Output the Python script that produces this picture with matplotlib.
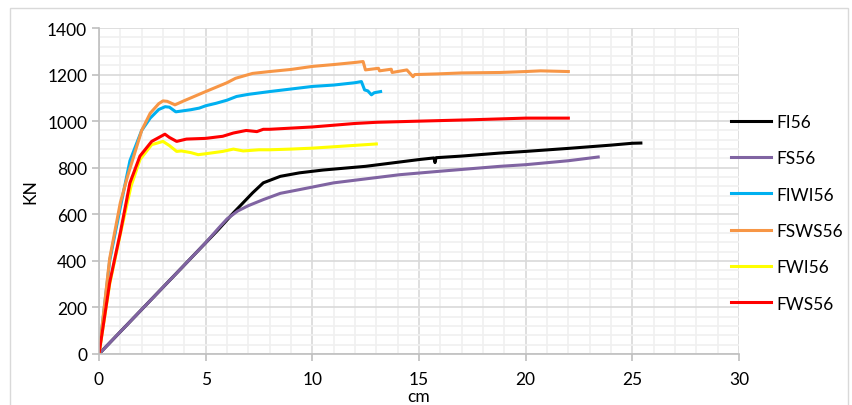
import matplotlib
matplotlib.use("Agg")
import matplotlib.pyplot as plt
from matplotlib.ticker import MultipleLocator
from matplotlib.patches import Rectangle

plt.rcParams['font.family'] = ['Lato', 'DejaVu Sans']

# ---- data (cm, kN) ----
fi56_x = [0, 2, 4, 5.6, 6.3, 7.2, 7.7, 8.5, 9.4, 10.5, 12.5, 15.0, 15.7, 15.75, 15.8, 17.0, 18.8, 20.0, 22.0, 24.0, 25.0, 25.4]
fi56_y = [0, 191, 382, 535, 606, 692, 735, 763, 778, 790, 806, 835, 842, 822, 843, 850, 863, 870, 883, 897, 905, 906]

fs56_x = [0, 2, 4, 5.0, 5.6, 6.0, 6.5, 7.0, 7.7, 8.5, 9.4, 11.0, 12.5, 14.1, 16.0, 18.8, 20.0, 22.0, 23.4]
fs56_y = [0, 191, 382, 478, 540, 580, 614, 637, 663, 690, 706, 735, 752, 770, 785, 806, 813, 830, 846]

fiwi56_x = [0, 0.5, 1.0, 1.45, 2.0, 2.4, 2.8, 3.1, 3.3, 3.6, 4.3, 4.7, 5.0, 5.5, 6.0, 6.45, 7.0, 8.0, 9.0, 10.0, 11.0, 12.0, 12.3, 12.45, 12.6, 12.77, 12.9, 13.2]
fiwi56_y = [0, 400, 630, 830, 960, 1013, 1050, 1062, 1060, 1040, 1049, 1056, 1066, 1077, 1090, 1106, 1115, 1127, 1138, 1149, 1155, 1165, 1170, 1134, 1130, 1113, 1122, 1127]

fsws56_x = [0, 0.5, 1.0, 1.33, 2.0, 2.4, 2.8, 3.0, 3.2, 3.56, 4.0, 5.0, 6.0, 6.4, 7.2, 8.0, 9.0, 10.0, 11.0, 12.0, 12.38, 12.49, 13.1, 13.15, 13.7, 13.74, 14.43, 14.72, 14.8, 15.9, 17.0, 18.8, 20.0, 20.7, 22.0]
fsws56_y = [0, 410, 650, 760, 960, 1034, 1075, 1087, 1085, 1070, 1088, 1127, 1165, 1184, 1205, 1213, 1222, 1235, 1243, 1252, 1256, 1220, 1227, 1216, 1223, 1209, 1220, 1191, 1200, 1203, 1207, 1209, 1213, 1216, 1213]

fwi56_x = [0, 0.5, 1.0, 1.5, 1.92, 2.47, 3.0, 3.3, 3.64, 3.86, 4.3, 4.65, 5.0, 5.8, 6.3, 6.76, 7.5, 8.0, 9.0, 10.0, 11.0, 12.0, 13.0]
fwi56_y = [0, 300, 515, 720, 835, 899, 913, 895, 870, 872, 865, 856, 860, 870, 880, 872, 877, 877, 880, 884, 890, 896, 902]

fws56_x = [0, 0.5, 1.0, 1.45, 1.92, 2.47, 3.09, 3.3, 3.64, 4.1, 5.0, 5.8, 6.3, 6.9, 7.4, 7.7, 8.0, 9.0, 10.0, 12.0, 13.0, 15.0, 17.5, 20.0, 22.0]
fws56_y = [0, 307, 521, 735, 850, 913, 944, 930, 913, 923, 926, 935, 949, 960, 955, 965, 965, 970, 975, 990, 995, 1000, 1006, 1013, 1013]

series = [
    ("FI56", fi56_x, fi56_y, "#000000"),
    ("FS56", fs56_x, fs56_y, "#8064A2"),
    ("FIWI56", fiwi56_x, fiwi56_y, "#00B0F0"),
    ("FSWS56", fsws56_x, fsws56_y, "#F79646"),
    ("FWI56", fwi56_x, fwi56_y, "#FFFF00"),
    ("FWS56", fws56_x, fws56_y, "#FF0000"),
]

fig = plt.figure(figsize=(8.53, 4.06), dpi=100)
ax = fig.add_axes([99/853, 1-355/406, (739-99)/853, (355-29)/406])

# chart border
fig.patches.append(Rectangle((10/853, -0.05), (848-10)/853, 1.05 - 9/406,
                             transform=fig.transFigure, fill=False,
                             edgecolor="#d9d9d9", linewidth=1.0))

for name, x, y, c in series:
    ax.plot(x, y, color=c, lw=2.2, label=name, solid_joinstyle='round')

ax.set_xlim(0, 30)
ax.set_ylim(0, 1400)
ax.xaxis.set_major_locator(MultipleLocator(5))
ax.xaxis.set_minor_locator(MultipleLocator(1))
ax.yaxis.set_major_locator(MultipleLocator(200))
ax.yaxis.set_minor_locator(MultipleLocator(40))
ax.grid(which='major', color='#d9d9d9', lw=1.2)
ax.grid(which='minor', color='#f0f0f0', lw=1.2)
ax.set_axisbelow(True)
for s in ['top', 'right']:
    ax.spines[s].set_visible(False)
for s in ['left', 'bottom']:
    ax.spines[s].set_color('#bfbfbf')
    ax.spines[s].set_linewidth(1.2)
ax.tick_params(which='major', length=5, color='#bfbfbf', labelsize=12.5, width=1.2)
ax.tick_params(which='minor', length=0)
ax.tick_params(axis='x', pad=7)
ax.set_xlabel('cm', fontsize=12.5, labelpad=1)
ax.set_ylabel('KN', fontsize=12.5, labelpad=6)

leg = ax.legend(loc='upper left', bbox_to_anchor=(724/853, 1-108/406), bbox_transform=fig.transFigure,
                frameon=False, fontsize=12.5, handlelength=2.3, handletextpad=0.3,
                labelspacing=1.17, borderaxespad=0)

fig.savefig('out.png', dpi=100)
